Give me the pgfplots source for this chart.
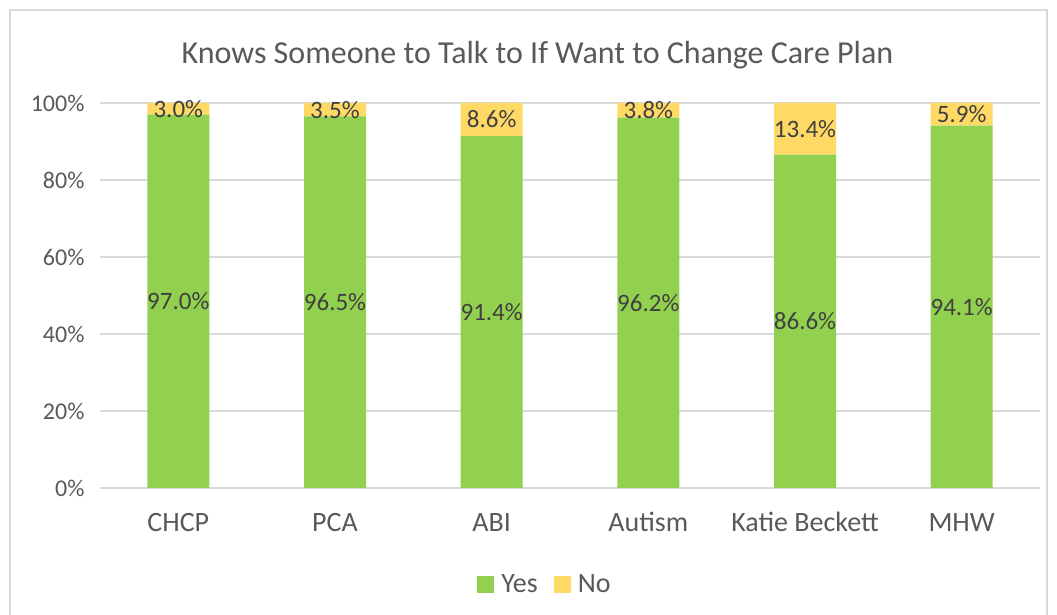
\documentclass[border=0pt]{standalone}
\usepackage{fontspec}
\setmainfont{Carlito}
\usepackage{pgfplots}
\usepackage{pgfplotstable}
\pgfplotsset{compat=1.18}
\definecolor{yesc}{HTML}{92D050}
\definecolor{noc}{HTML}{FFD966}
\definecolor{txt}{HTML}{595959}
\definecolor{lbl}{HTML}{404040}
\definecolor{grd}{HTML}{D9D9D9}
\pgfplotstableread{
x yes no
0 97.0 3.0
1 96.5 3.5
2 91.4 8.6
3 96.2 3.8
4 86.6 13.4
5 94.1 5.9
}\datatable
\pgfplotsset{
  common/.style={
    at={(100pt,127pt)}, anchor=south west,
    scale only axis, width=940pt, height=385pt,
    xmin=-0.5, xmax=5.5, ymin=0, ymax=100,
  }
}
\begin{document}
\begin{tikzpicture}[x=1pt,y=1pt]
\useasboundingbox (0,0) rectangle (1057,615);
\draw[grd, line width=1.2pt] (10,-5) -- (10,605) -- (1047,605) -- (1047,-5);
\node[txt, font=\fontsize{32}{37}\selectfont, anchor=center] at (537.5,560) {Knows Someone to Talk to If Want to Change Care Plan};
\begin{axis}[
  common,
  ybar stacked, bar width=62pt,
  xtick={0,1,2,3,4,5},
  xticklabels={CHCP,PCA,ABI,Autism,Katie Beckett,MHW},
  ytick={0,20,40,60,80,100},
  yticklabel={\pgfmathprintnumber{\tick}\%},
  /pgf/number format/assume math mode=true,
  ymajorgrids, grid style={grd, line width=1.3pt},
  axis line style={draw=none}, major tick length=0pt,
  yticklabel style={txt, font=\fontsize{24}{28}\selectfont, xshift=-12pt},
  xticklabel style={txt, font=\fontsize{28}{32}\selectfont, text height=20pt, text depth=6pt, yshift=-20pt},
  legend columns=2,
  legend style={at={(0.4734,-0.2494)}, anchor=center, draw=none, fill=none, font=\fontsize{28}{32}\selectfont, text=txt,
    /tikz/every odd column/.append style={column sep=5pt},
    /tikz/every even column/.append style={column sep=14pt}},
  legend image code/.code={\fill[#1] (0pt,-8.5pt) rectangle (17pt,8.5pt);},
]
\addplot[fill=yesc, draw=none] table[x=x, y=yes] {\datatable};
\addplot[fill=noc, draw=none] table[x=x, y=no] {\datatable};
\legend{Yes,No}
\end{axis}
\begin{axis}[
  common, axis lines=none,
  point meta=explicit,
  nodes near coords={\pgfmathprintnumber[fixed,fixed zerofill,precision=1,assume math mode=true]{\pgfplotspointmeta}\%},
  every node near coord/.append style={lbl, font=\fontsize{25}{29}\selectfont, anchor=center, inner sep=0pt},
]
\addplot[only marks, mark=none] table[x=x, y expr=\thisrow{yes}/2, meta=yes] {\datatable};
\addplot[only marks, mark=none] table[x=x, y expr=\thisrow{yes}+\thisrow{no}/2, meta=no] {\datatable};
\end{axis}
\end{tikzpicture}
\end{document}
